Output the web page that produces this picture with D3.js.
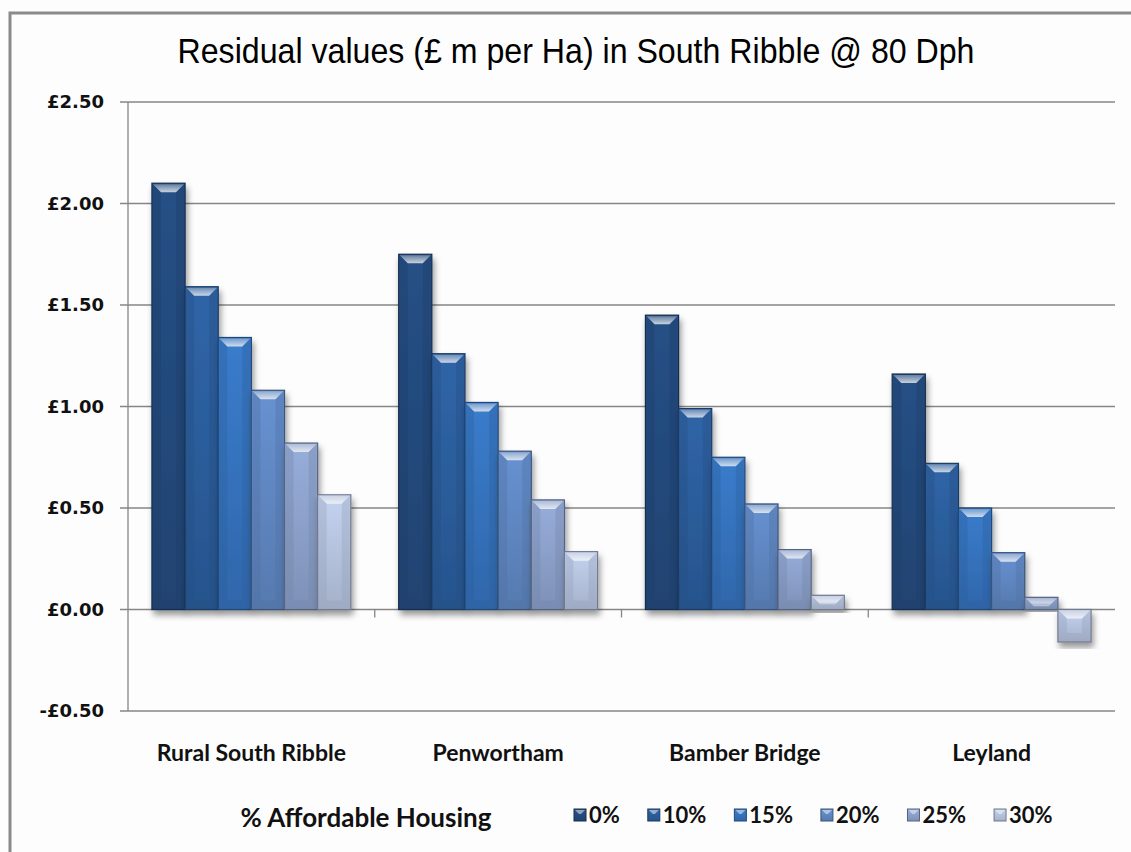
<!DOCTYPE html>
<html>
<head>
<meta charset="utf-8">
<script src="https://cdn.jsdelivr.net/npm/d3@7"></script>
<style>
  body { margin: 0; background: #fff; }
  svg { display: block; }
</style>
</head>
<body>
<div id="chart"></div>
<script>
// data
const categories = ["Rural South Ribble", "Penwortham", "Bamber Bridge", "Leyland"];
const series = ["0%", "10%", "15%", "20%", "25%", "30%"];
const values = [
  [2.10, 1.59, 1.34, 1.08, 0.82, 0.565],  // Rural South Ribble
  [1.75, 1.26, 1.02, 0.78, 0.54, 0.285],  // Penwortham
  [1.45, 0.99, 0.75, 0.52, 0.295, 0.07],  // Bamber Bridge
  [1.16, 0.72, 0.50, 0.28, 0.06, -0.16]   // Leyland
];
const yTicks = [-0.5, 0, 0.5, 1.0, 1.5, 2.0, 2.5];
const colors = ["#23497b", "#2b5c9a", "#3571bb", "#5e85bf", "#8a9fc8", "#b3c1dc"];

const width = 1131, height = 852;
const plot = { left: 128, right: 1115, top: 102, bottom: 711 };

const svg = d3.select("#chart").append("svg")
  .attr("width", width)
  .attr("height", height);

// frame (only left and top edges visible in the original crop)
svg.append("rect").attr("x", 0).attr("y", 0).attr("width", width).attr("height", height).attr("fill", "#fdfdfd");
svg.append("path")
  .attr("d", `M10,${height} L10,13 L${width},13`)
  .attr("fill", "none").attr("stroke", "#8a8a8a").attr("stroke-width", 3);

const defs = svg.append("defs");
const shadow = defs.append("filter").attr("id", "shadow")
  .attr("x", "-20%").attr("y", "-10%").attr("width", "150%").attr("height", "130%");
shadow.append("feDropShadow").attr("dx", 2).attr("dy", 5).attr("stdDeviation", 3)
  .attr("flood-color", "#000").attr("flood-opacity", 0.4);

colors.forEach((c, i) => {
  const g = defs.append("linearGradient").attr("id", "grad" + i)
    .attr("x1", 0).attr("y1", 0).attr("x2", 0).attr("y2", 1);
  g.append("stop").attr("offset", "0%").attr("stop-color", d3.color(c).brighter(0.25));
  g.append("stop").attr("offset", "100%").attr("stop-color", d3.color(c).darker(0.25));
  const h = defs.append("linearGradient").attr("id", "hl" + i)
    .attr("x1", 0).attr("y1", 0).attr("x2", 0).attr("y2", 1);
  h.append("stop").attr("offset", "0%").attr("stop-color", d3.interpolateRgb(c, "#ffffff")(0.3));
  h.append("stop").attr("offset", "100%").attr("stop-color", d3.interpolateRgb(c, "#ffffff")(0.75));
});

const y = d3.scaleLinear().domain([-0.5, 2.5]).range([plot.bottom, plot.top]);
const x0 = d3.scaleBand().domain(categories).range([plot.left, plot.right]).padding(0);
const gap = x0.bandwidth() * 0.097;
const x1 = d3.scaleBand().domain(series).range([gap, x0.bandwidth() - gap]).padding(0);

// gridlines
svg.append("g").selectAll("line").data(yTicks).join("line")
  .attr("x1", plot.left - 8).attr("x2", plot.right)
  .attr("y1", d => y(d)).attr("y2", d => y(d))
  .attr("stroke", "#868686").attr("stroke-width", 1.3);

// y axis line
svg.append("line").attr("x1", plot.left).attr("x2", plot.left)
  .attr("y1", plot.top).attr("y2", plot.bottom)
  .attr("stroke", "#868686").attr("stroke-width", 1.3);

// category tick marks on the zero line
svg.append("g").selectAll("line").data(categories.slice(1)).join("line")
  .attr("x1", d => x0(d)).attr("x2", d => x0(d))
  .attr("y1", y(0)).attr("y2", y(0) + 8)
  .attr("stroke", "#868686").attr("stroke-width", 1.3);

// y tick labels
const fmt = d => (d < 0 ? "-£" : "£") + Math.abs(d).toFixed(2);
svg.append("g").selectAll("text").data(yTicks).join("text")
  .attr("x", 104).attr("y", d => y(d)).attr("dy", "0.36em")
  .attr("text-anchor", "end")
  .style("font-family", "DejaVu Sans, Verdana, sans-serif")
  .style("font-size", "18px")
  .style("font-weight", "bold")
  .attr("fill", "#111")
  .text(fmt);

// bars
const groups = svg.append("g").selectAll("g").data(categories).join("g")
  .attr("transform", d => `translate(${x0(d)},0)`);

const bars = groups.selectAll("g").data((d, ci) => series.map((s, si) => ({ s, si, v: values[ci][si] })))
  .join("g");

bars.append("rect")
  .attr("x", d => x1(d.s))
  .attr("y", d => y(Math.max(0, d.v)))
  .attr("width", x1.bandwidth())
  .attr("height", d => Math.abs(y(d.v) - y(0)))
  .attr("fill", d => `url(#grad${d.si})`)
  .attr("stroke", d => d3.color(colors[d.si]).darker(1.3))
  .attr("stroke-width", 1.2)
  .attr("filter", "url(#shadow)");

// bevel highlight at the top of each bar
const bevel = 8;
bars.append("path")
  .attr("d", d => {
    const xl = x1(d.s) + 1, xr = x1(d.s) + x1.bandwidth() - 1;
    const yt = y(Math.max(0, d.v)) + 1;
    const h = Math.min(bevel, Math.abs(y(d.v) - y(0)) - 2);
    return `M${xl},${yt} L${xr},${yt} L${xr - h},${yt + h} L${xl + h},${yt + h} Z`;
  })
  .attr("fill", d => `url(#hl${d.si})`);

// darker bevel at the bottom and sides
bars.append("path")
  .attr("d", d => {
    const xl = x1(d.s) + 1, xr = x1(d.s) + x1.bandwidth() - 1;
    const yt = y(Math.max(0, d.v)) + 1;
    const yb = y(Math.min(0, d.v)) - 1;
    const h = Math.min(bevel, (yb - yt) / 2);
    return `M${xl},${yt} L${xl + h},${yt + h} L${xl + h},${yb - h} L${xr - h},${yb - h} L${xr - h},${yt + h} L${xr},${yt} L${xr},${yb} L${xl},${yb} Z`;
  })
  .attr("fill", d => d3.color(colors[d.si]).darker(0.5))
  .attr("opacity", 0.35);

// title (condensed face in the original, squeezed to its width)
svg.append("text")
  .attr("x", 576).attr("y", 63)
  .attr("text-anchor", "middle")
  .attr("textLength", 797).attr("lengthAdjust", "spacingAndGlyphs")
  .style("font-family", "'Liberation Sans', Arial, sans-serif")
  .style("font-size", "35px")
  .attr("fill", "#000")
  .text("Residual values (£ m per Ha) in South Ribble @ 80 Dph");

// category labels
svg.append("g").selectAll("text").data(categories).join("text")
  .attr("x", d => x0(d) + x0.bandwidth() / 2).attr("y", 761)
  .attr("text-anchor", "middle")
  .style("font-family", "Lato, sans-serif")
  .style("font-size", "23px")
  .style("font-weight", "bold")
  .attr("fill", "#111")
  .text(d => d);

// axis title
svg.append("text")
  .attr("x", 366).attr("y", 827)
  .attr("text-anchor", "middle")
  .style("font-family", "Lato, sans-serif")
  .style("font-size", "26px")
  .style("font-weight", "bold")
  .attr("fill", "#111")
  .text("% Affordable Housing");

// legend, laid out item after item
const leg = svg.append("g").selectAll("g").data(series).join("g");
leg.append("rect")
  .attr("x", 0).attr("y", -6).attr("width", 12).attr("height", 12)
  .attr("fill", (d, i) => `url(#grad${i})`)
  .attr("stroke", (d, i) => d3.color(colors[i]).darker(1.3)).attr("stroke-width", 1);
leg.append("path")
  .attr("d", "M1,-5 L11,-5 L7,-1 L5,-1 Z")
  .attr("fill", (d, i) => d3.interpolateRgb(colors[i], "#fff")(0.5));
leg.append("text")
  .attr("x", 15).attr("y", 0).attr("dy", "0.36em")
  .style("font-family", "Lato, sans-serif")
  .style("font-size", "22px")
  .style("font-weight", "bold")
  .attr("fill", "#111")
  .text(d => d);
let lx = 574;
leg.each(function () {
  d3.select(this).attr("transform", `translate(${lx},815)`);
  lx += 15 + this.querySelector("text").getComputedTextLength() + 28;
});
</script>
</body>
</html>
